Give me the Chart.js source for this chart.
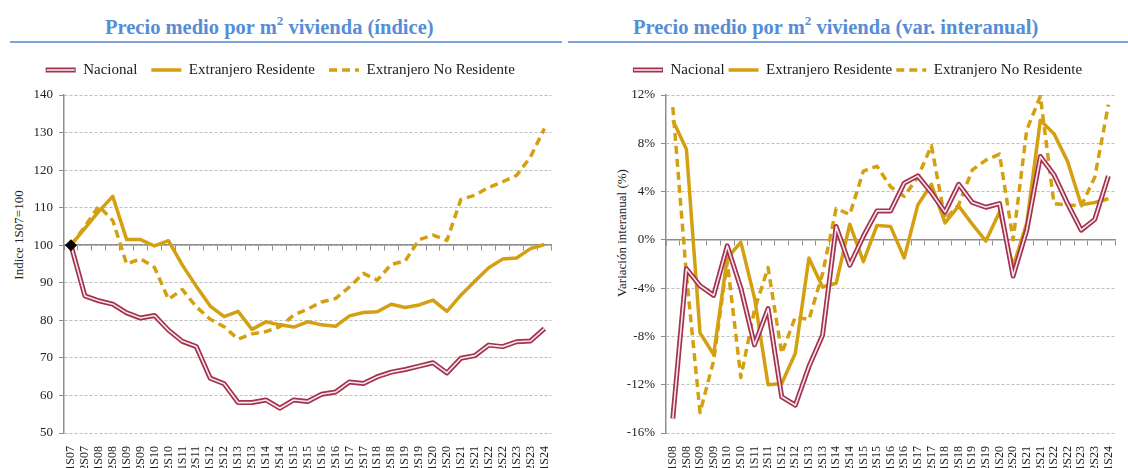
<!DOCTYPE html>
<html><head><meta charset="utf-8">
<script src="https://cdn.jsdelivr.net/npm/chart.js@4.4.1/dist/chart.umd.min.js"></script>
<style>
html,body{margin:0;padding:0;background:#fff;}
#wrap{position:relative;width:1128px;height:468px;overflow:hidden;font-family:'Liberation Serif','Times New Roman',serif;background:#fff;}
.title{position:absolute;top:17px;font-weight:bold;font-size:20.5px;line-height:1;color:#558ED5;white-space:nowrap;}
.title .sup{font-size:13px;vertical-align:9px;line-height:0;}
.rule{position:absolute;top:41px;height:2px;background:#7FA3D4;}
.ytitle{position:absolute;font-size:13px;color:#222;white-space:nowrap;transform:translate(-50%,-50%) rotate(-90deg);line-height:1;}
canvas{position:absolute;top:45px;}
</style>
</head><body>
<div id="wrap">
  <div class="title" style="left:105px;">Precio medio por m<span class="sup">2</span> vivienda (índice)</div>
  <div class="title" style="left:633px;">Precio medio por m<span class="sup">2</span> vivienda (var. interanual)</div>
  <div class="rule" style="left:10px;width:552px;"></div>
  <div class="rule" style="left:568px;width:560px;"></div>
  <div class="ytitle" style="left:17.5px;top:235px;">Indice 1S07=100</div>
  <div class="ytitle" style="left:621px;top:233px;">Variación interanual (%)</div>
  <canvas id="c1" width="564" height="423" style="left:0px;"></canvas>
  <canvas id="c2" width="564" height="423" style="left:564px;"></canvas>
</div>
<script>
// ---------- DATA ----------
const labelsIndice = ['1S07','2S07','1S08','2S08','1S09','2S09','1S10','2S10','1S11','2S11','1S12','2S12','1S13','2S13','1S14','2S14','1S15','2S15','1S16','2S16','1S17','2S17','1S18','2S18','1S19','2S19','1S20','2S20','1S21','2S21','1S22','2S22','1S23','2S23','1S24'];
const nacionalIndice = [100,86.5,85.2,84.3,82.0,80.6,81.3,77.4,74.4,73.0,64.6,63.1,58.1,58.1,58.8,56.6,58.8,58.4,60.3,60.9,63.6,63.2,65.0,66.2,66.9,67.8,68.7,66.0,69.9,70.6,73.4,73.0,74.3,74.5,77.8];
const residenteIndice = [100,104.5,109.0,113.0,101.5,101.5,99.8,101.2,94.7,89.1,83.8,81.0,82.4,77.6,79.6,78.8,78.2,79.6,78.8,78.4,81.2,82.1,82.3,84.3,83.4,84.1,85.4,82.4,86.7,90.4,94.0,96.3,96.6,99.1,100.2];
const noResidenteIndice = [100,105.0,110.4,106.6,95.0,96.4,94.1,85.6,88.2,83.6,80.3,78.3,75.0,76.4,77.0,78.3,81.4,83.0,84.9,85.8,88.9,92.5,90.7,94.9,95.8,101.5,102.7,101.3,112.2,113.3,115.4,116.9,118.6,123.5,131.1];

const labelsVar = ['1S08','2S08','1S09','2S09','1S10','2S10','1S11','2S11','1S12','2S12','1S13','2S13','1S14','2S14','1S15','2S15','1S16','2S16','1S17','2S17','1S18','2S18','1S19','2S19','1S20','2S20','1S21','2S21','1S22','2S22','1S23','2S23','1S24'];
const nacionalVar = [-14.8,-2.4,-3.8,-4.6,-0.5,-4.0,-8.7,-5.7,-13.0,-13.7,-10.5,-7.9,1.1,-2.1,0.3,2.4,2.4,4.7,5.3,3.9,2.3,4.6,3.1,2.7,3.0,-3.0,0.8,6.9,5.4,3.0,0.8,1.7,5.3];
const residenteVar = [9.9,7.5,-7.7,-9.5,-1.5,-0.2,-4.8,-12.0,-11.9,-9.4,-1.5,-3.9,-3.6,1.3,-1.8,1.2,1.1,-1.5,2.9,4.6,1.4,2.8,1.3,-0.1,2.3,-2.2,1.4,9.9,8.8,6.5,2.9,3.1,3.4];
const noResidenteVar = [11.0,-2.9,-14.3,-10.0,-1.8,-11.4,-5.8,-2.3,-9.4,-6.4,-6.6,-2.8,2.6,2.1,5.7,6.1,4.4,3.6,5.2,7.8,1.7,2.9,5.8,6.6,7.1,0.0,9.1,11.9,3.0,2.9,2.8,5.2,11.2];

const ticksIndice = {min:50, max:140, step:10};
const ticksVar = {min:-16, max:12, step:4};

// ---------- STYLE ----------
const SERIF = "'Liberation Serif','Times New Roman',serif";
const RED = '#A2324F';
const INNER = '#F7E6EA';
const GOLD = '#D4A012';
const GRID = '#BDBDBD';
const AXIS = '#8E8E8E';

const legendInner = {
  id: 'legendInner',
  afterDraw(chart) {
    const lg = chart.legend;
    if (!lg || !lg.legendHitBoxes || !lg.legendItems) return;
    const idx = lg.legendItems.findIndex(it => it.text === 'Nacional');
    if (idx < 0) return;
    const hb = lg.legendHitBoxes[idx];
    const ctx = chart.ctx;
    const y = hb.top + hb.height / 2;
    ctx.save();
    ctx.strokeStyle = INNER;
    ctx.lineWidth = 1.6;
    ctx.beginPath();
    ctx.moveTo(hb.left + 1, y);
    ctx.lineTo(hb.left + 29, y);
    ctx.stroke();
    ctx.restore();
  }
};

function makeChart(canvas, labels, nac, res, nores, t, cfg) {
  const common = {fill:false, tension:0, pointRadius:0, pointHoverRadius:0, borderJoinStyle:'round', borderCapStyle:'butt', xAxisID:'x', yAxisID:'y'};
  const datasets = [
    Object.assign({label:'Nacional', data:nac, borderColor:RED, backgroundColor:RED, borderWidth:5, pointStyle:'line', order:2}, common),
    Object.assign({label:'Extranjero Residente', data:res, borderColor:GOLD, backgroundColor:GOLD, borderWidth:3.5, pointStyle:'line', order:3}, common),
    Object.assign({label:'Extranjero No Residente', data:nores, borderColor:GOLD, backgroundColor:GOLD, borderWidth:3.5, borderDash:[8,5], pointStyle:'line', order:4}, common),
    Object.assign({label:'inner', data:nac, borderColor:INNER, borderWidth:1.6, order:1, legendHide:true}, common)
  ];
  if (cfg.marker) {
    datasets.push({label:'base', data:nac.map((v,i)=> i===0 ? v : null), showLine:false, pointStyle:'rectRot', pointRadius:5.5, pointHoverRadius:5.5, backgroundColor:'#000', borderColor:'#000', borderWidth:1, order:0, legendHide:true, xAxisID:'x', yAxisID:'y'});
  }
  return new Chart(canvas, {
    type:'line',
    data:{labels, datasets},
    plugins:[legendInner],
    options:{
      responsive:false, animation:false, devicePixelRatio:1,
      layout:{padding:cfg.padding},
      plugins:{
        tooltip:{enabled:false},
        legend:{display:true, position:'top', align:'center',
          labels:{usePointStyle:true, pointStyleWidth:30, padding:cfg.legendPad,
            font:{family:SERIF, size:15}, color:'#1a1a1a',
            generateLabels(chart){
              const items = Chart.defaults.plugins.legend.labels.generateLabels(chart);
              items.forEach(it => {
                const ds = chart.data.datasets[it.datasetIndex];
                it.lineDash = ds.borderDash || [];
                it.lineWidth = ds.borderWidth;
                it.strokeStyle = ds.borderColor;
                it.lineCap = 'butt';
              });
              return items;
            },
            filter:(item, data)=>!data.datasets[item.datasetIndex].legendHide}}
      },
      scales:{
        x:{type:'category', axis:'x', position:'bottom', offset:true,
          grid:{display:false}, border:{display:false},
          ticks:{autoSkip:false, maxRotation:90, minRotation:90, padding:5, font:{family:SERIF, size:12}, color:'#222'},
          afterFit(s){ s.height = 35; }},
        xz:{type:'category', axis:'x', position:{y:cfg.zero}, offset:true,
          grid:{display:true, offset:true, drawOnChartArea:false, drawTicks:true, tickLength:5, color:AXIS, lineWidth:1},
          border:{display:true, color:AXIS, width:1.5},
          ticks:{display:false}},
        xt:{type:'category', axis:'x', position:'top', offset:true,
          grid:{display:false}, border:{display:false}, ticks:{display:false},
          afterFit(s){ s.height = 7.5; }},
        y:{type:'linear', position:'left', min:t.min, max:t.max,
          ticks:{stepSize:t.step, padding:6, font:{family:SERIF, size:13}, color:'#222', callback:cfg.fmt},
          grid:{color:GRID, tickColor:AXIS, tickLength:5, drawTicks:true, lineWidth:1},
          border:{display:true, color:AXIS, width:1.5, dash:[3,2]},
          afterFit(s){ s.width = cfg.yWidth; }}
      }
    }
  });
}

makeChart(document.getElementById('c1'), labelsIndice, nacionalIndice, residenteIndice, noResidenteIndice, ticksIndice,
  {marker:true, zero:100, padding:{left:4.5, right:8, top:3.5, bottom:0}, legendPad:14, yWidth:59.5, fmt:(v)=>v});
makeChart(document.getElementById('c2'), labelsVar, nacionalVar, residenteVar, noResidenteVar, ticksVar,
  {marker:false, zero:0, padding:{left:24, right:1, top:13.5, bottom:0}, legendPad:4, yWidth:78, fmt:(v)=>v + '%'});
</script>
</body></html>
